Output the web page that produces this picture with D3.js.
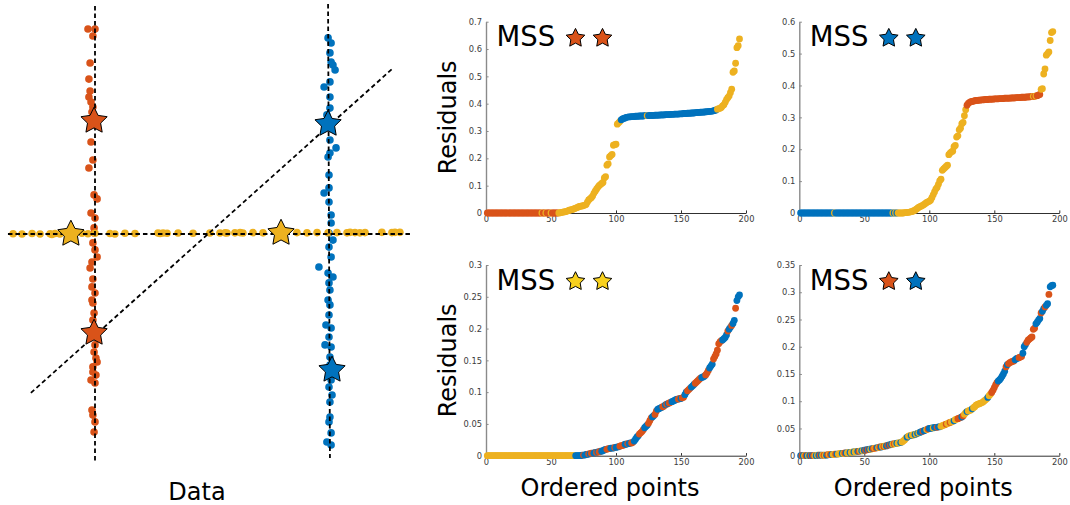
<!DOCTYPE html>
<html>
<head>
<meta charset="utf-8">
<script src="https://cdn.jsdelivr.net/npm/d3@7/dist/d3.min.js"></script>
<style>
  html, body { margin: 0; padding: 0; background: #fff; }
  svg { display: block; }
  text { font-family: "DejaVu Sans", sans-serif; }
</style>
</head>
<body>
<svg id="fig" width="1070" height="505"></svg>
<script>
// ---------- colours of the three structures ----------
const clusterColor = { o: "#D95319", b: "#0072BD", y: "#EDB120" };
const legendStarColor = { o: "#D95319", b: "#0072BD", y: "#F8D11E" };

// ---------- data panel: points of the three structures ----------
const orangePts = [
  [-0.530,0.876],[-0.500,0.876],[-0.509,0.846],[-0.521,0.731],[-0.526,0.662],[-0.521,0.611],
  [-0.526,0.585],[-0.517,0.564],[-0.509,0.543],[-0.513,0.521],[-0.517,0.393],[-0.509,0.316],
  [-0.526,0.282],[-0.504,0.167],[-0.491,0.150],[-0.517,0.090],[-0.500,0.068],[-0.504,0.026],
  [-0.504,0.004],[-0.509,-0.038],[-0.500,-0.068],[-0.491,-0.098],[-0.513,-0.120],[-0.521,-0.145],
  [-0.509,-0.192],[-0.513,-0.226],[-0.500,-0.252],[-0.513,-0.282],[-0.509,-0.295],[-0.504,-0.338],
  [-0.509,-0.368],[-0.500,-0.474],[-0.504,-0.504],[-0.496,-0.530],[-0.491,-0.547],[-0.509,-0.568],
  [-0.509,-0.590],[-0.496,-0.603],[-0.517,-0.624],[-0.500,-0.637],[-0.513,-0.752],[-0.509,-0.774],
  [-0.500,-0.803],[-0.504,-0.846]
];
const bluePts = [
  [0.496,0.838],[0.509,0.816],[0.504,0.774],[0.509,0.735],[0.517,0.722],[0.526,0.701],
  [0.504,0.650],[0.479,0.628],[0.504,0.585],[0.504,0.538],[0.491,0.509],[0.504,0.402],
  [0.530,0.368],[0.504,0.346],[0.496,0.329],[0.500,0.252],[0.500,0.197],[0.479,0.175],
  [0.500,0.137],[0.509,0.081],[0.509,0.047],[0.500,0.004],[0.517,-0.026],[0.500,-0.056],
  [0.509,-0.098],[0.457,-0.141],[0.496,-0.167],[0.517,-0.184],[0.500,-0.209],[0.504,-0.239],
  [0.496,-0.282],[0.504,-0.303],[0.500,-0.346],[0.487,-0.389],[0.509,-0.402],[0.500,-0.440],
  [0.483,-0.474],[0.509,-0.483],[0.504,-0.526],[0.504,-0.560],[0.509,-0.624],[0.500,-0.654],
  [0.513,-0.688],[0.504,-0.718],[0.504,-0.782],[0.500,-0.803],[0.509,-0.850],[0.491,-0.889],
  [0.509,-0.902]
];
const yellowPts = [
  [-0.850,0.001],[-0.812,0.000],[-0.769,0.002],[-0.735,0.000],[-0.692,0.001],[-0.684,-0.002],
  [-0.671,0.002],[-0.650,0.000],[-0.556,0.003],[-0.530,0.001],[-0.500,0.003],[-0.436,0.002],
  [-0.415,0.000],[-0.372,0.003],[-0.329,0.002],[-0.231,0.004],[-0.222,0.002],[-0.209,0.004],
  [-0.192,0.003],[-0.145,0.004],[-0.081,0.003],[-0.009,0.004],[0.034,0.004],[0.056,0.005],
  [0.064,0.004],[0.098,0.005],[0.120,0.006],[0.132,0.004],[0.175,0.006],[0.218,0.005],
  [0.363,0.006],[0.406,0.005],[0.449,0.006],[0.496,0.005],[0.534,0.006],[0.577,0.005],
  [0.590,0.007],[0.611,0.006],[0.632,0.005],[0.654,0.006],[0.726,0.007],[0.769,0.006],
  [0.782,0.007],[0.803,0.007]
];
// minimal sample sets (pairs of stars)
const mssStars = [
  { c: "o", x: -0.504, y: 0.483 }, { c: "o", x: -0.504, y: -0.423 },
  { c: "b", x: 0.496, y: 0.470 },  { c: "b", x: 0.513, y: -0.581 },
  { c: "y", x: -0.603, y: 0.000 }, { c: "y", x: 0.295, y: 0.004 }
];
// lines fitted through each pair
const fittedLines = [
  [-0.500, 0.974, -0.500, -0.974],
  [0.496, 0.983, 0.504, -0.957],
  [-0.872, 0.000, 0.850, 0.000],
  [-0.774, -0.679, 0.774, 0.709]
];

// ---------- residuals, sorted, with the structure each point belongs to ----------
const residualsOO = [
  0,0,0,0,0,0,0,0,0,0,
  0,0,0,0,0,0,0,0,0,0,
  0,0,0,0,0,0,0,0,0,0,
  0,0,0,0,0,0,0,0,0,0,
  0,0,0,0,0,0,0,0,0,0,
  0,0,0,0,0,0,.001,.002,.003,.004,
  .005,.006,.008,.010,.011,.012,.014,.016,.018,.020,
  .022,.024,.025,.026,.027,.029,.031,.040,.048,.052,
  .056,.062,.072,.080,.087,.094,.100,.104,.108,.112,
  .128,.133,.175,.180,.205,.210,.214,.248,.250,.252,
  .325,.330,.335,.341,.344,.346,.348,.350,.351,.352,
  .352,.353,.353,.353,.354,.354,.354,.355,.355,.355,
  .355,.356,.356,.356,.356,.357,.357,.357,.357,.358,
  .358,.358,.358,.359,.359,.359,.359,.360,.360,.360,
  .360,.361,.361,.361,.362,.362,.362,.362,.363,.363,
  .363,.364,.364,.364,.365,.365,.365,.366,.366,.366,
  .367,.367,.368,.368,.369,.369,.369,.370,.370,.371,
  .371,.372,.372,.373,.374,.375,.377,.380,.382,.383,
  .386,.392,.396,.405,.415,.422,.428,.440,.453,.515,
  .520,.548,.605,.612,.637
];
const labelsOO = ["oooooooooo","oooooooooo","oooooooooo","oooooooooo","ooyooyoooy",
  "oooooyyyyy","yyyyyyyyyy","yyyyyyyyyy","yyyyyyyyyy","yyyyyyyyyy",
  "yyybbbbbbb","bbbbbbbbbb","bbbybbbbbb","bbbbbbbbbb","bbbbbbbbbb",
  "bbbbbbbbbb","bbbbbbbbbb","bbbbbbbyyy","yyyyyyyyyy","yyyyy"].join("");

const residualsBB = [
  0,0,0,0,0,0,0,0,0,0,
  0,0,0,0,0,0,0,0,0,0,
  0,0,0,0,0,0,0,0,0,0,
  0,0,0,0,0,0,0,0,0,0,
  0,0,0,0,0,0,0,0,0,0,
  0,0,0,0,0,0,0,0,0,0,
  0,0,0,0,0,0,0,0,0,0,
  0,0,0,0,0,0,0,0,0,0,
  .001,.001,.002,.002,.003,.004,.005,.007,.009,.012,
  .015,.018,.020,.022,.024,.027,.030,.033,.035,.037,
  .040,.048,.057,.066,.075,.080,.090,.101,.106,.134,
  .138,.142,.146,.150,.183,.188,.192,.194,.208,.212,
  .238,.242,.261,.266,.280,.284,.305,.324,.338,.344,
  .347,.349,.350,.351,.352,.353,.353,.354,.354,.355,
  .355,.355,.356,.356,.356,.357,.357,.357,.357,.358,
  .358,.358,.358,.359,.359,.359,.359,.360,.360,.360,
  .360,.360,.361,.361,.361,.361,.362,.362,.362,.362,
  .363,.363,.363,.363,.364,.364,.364,.365,.365,.366,
  .366,.367,.368,.370,.372,.388,.390,.436,.452,.495,
  .500,.505,.541,.566,.569
];
const labelsBB = ["bbbbbbbbbb","bbbbbbbbbb","bbbbbbybbb","bbbbbbbbbb","bbbbbbbbbb",
  "bbbbbbbbbb","bbbbbbbbbb","bybybyyyyy","yyyyyyyyyy","yyyyyyyyyy",
  "yyyyyyyyyy","yyyyyyyyyy","yyyyyyyyoo","oooooooooo","oooooooooo",
  "oooooooooo","oooooooooo","oooooooooy","oyoooyyyyy","yyyyy"].join("");

const residualsYY = [
  0,0,0,0,0,0,0,0,0,0,
  0,0,0,0,0,0,0,0,0,0,
  0,0,0,0,0,0,0,0,0,0,
  0,0,0,0,0,0,0,0,0,0,
  0,0,0,0,0,0,0,0,0,0,
  0,0,0,0,0,0,0,0,0,0,
  0,0,0,0,0,0,0,0,0,0,
  0,0,0,.001,.001,.001,.002,.002,.003,.003,
  .004,.004,.004,.005,.005,.006,.006,.007,.007,.008,
  .009,.010,.010,.011,.011,.012,.012,.012,.013,.013,
  .014,.014,.015,.016,.016,.017,.018,.018,.019,.019,
  .020,.020,.021,.023,.026,.029,.031,.034,.036,.038,
  .041,.044,.046,.048,.051,.055,.059,.061,.063,.065,
  .070,.073,.074,.075,.076,.077,.078,.080,.081,.082,
  .083,.084,.085,.086,.087,.088,.089,.089,.090,.090,
  .091,.092,.096,.100,.102,.104,.106,.108,.110,.112,
  .114,.116,.118,.120,.122,.123,.124,.125,.127,.130,
  .134,.138,.141,.144,.152,.156,.160,.166,.176,.179,
  .181,.182,.184,.186,.190,.196,.199,.202,.205,.208,
  .213,.232,.244,.250,.253
];
const labelsYY = ["yyyyyyyyyy","yyyyyyyyyy","yyyyyyyyyy","yyyyyyyyyy","yyyyyyyyyy",
  "yyyyyyyyyy","yyyyyyyybb","bbbbobbbob","oobboboobb","bbooobbbob",
  "bboooobbob","boobbbbooo","obbbooobbo","obbbboobob","oobbbbboob",
  "oobbooobbb","ooooobbboo","obbboooooo","obbbbobbob","bobbb"].join("");

const residualsOB = [
  0,0,0,0,0,0,0,0,0,0,
  0,0,0,.001,.001,.001,.001,.001,.001,.001,
  .001,.002,.002,.002,.002,.002,.003,.003,.003,.003,
  .004,.004,.004,.004,.005,.005,.005,.006,.006,.006,
  .007,.007,.007,.008,.008,.008,.009,.009,.009,.010,
  .010,.011,.011,.012,.012,.013,.013,.014,.014,.015,
  .015,.016,.016,.017,.017,.018,.018,.019,.020,.020,
  .021,.021,.022,.022,.023,.023,.024,.024,.025,.027,
  .029,.032,.034,.036,.037,.037,.038,.038,.039,.040,
  .041,.042,.043,.044,.045,.046,.047,.048,.049,.050,
  .050,.051,.051,.052,.052,.052,.053,.053,.054,.055,
  .056,.057,.058,.059,.060,.061,.062,.063,.064,.066,
  .067,.068,.069,.070,.071,.073,.076,.079,.081,.082,
  .083,.084,.086,.088,.090,.093,.094,.095,.096,.097,
  .098,.100,.102,.104,.107,.110,.113,.116,.120,.125,
  .130,.134,.137,.139,.142,.146,.150,.155,.163,.167,
  .169,.171,.172,.173,.174,.176,.178,.179,.180,.181,
  .182,.188,.200,.204,.208,.212,.214,.216,.218,.232,
  .234,.242,.245,.249,.252,.262,.265,.270,.273,.276,
  .279,.296,.310,.312,.313
];
const labelsOB = ["bobyobybob","oybybobyoy","boyobyyoby","yybyobyyby","ybyyboybyb",
  "obobyboyob","yobyoybobo","byoybyybyy","yybyybyyby","bybbobbyob",
  "bbybbobbyy","yyoyyoyyby","yoooboyyby","yybyyyyyyy","yyyybyyooo",
  "oobbbbbbob","ooooobbboo","obbboooooo","obbbbobbob","bobbb"].join("");

const xTicks = [0, 50, 100, 150, 200];
const yTicksOO = [0, 0.1, 0.2, 0.3, 0.4, 0.5, 0.6, 0.7];
const yTicksBB = [0, 0.1, 0.2, 0.3, 0.4, 0.5, 0.6];
const yTicksYY = [0, 0.05, 0.1, 0.15, 0.2, 0.25, 0.3];
const yTicksOB = [0, 0.05, 0.1, 0.15, 0.2, 0.25, 0.3, 0.35];

const svg = d3.select("#fig");

// five-pointed star marker, outer radius r, point up
function starPath(r, inner = 0.5) {
  const p = d3.path();
  for (let k = 0; k < 10; k++) {
    const rad = k % 2 === 0 ? r : r * inner;
    const a = -Math.PI / 2 + k * Math.PI / 5;
    const px = rad * Math.cos(a), py = rad * Math.sin(a);
    if (k === 0) p.moveTo(px, py); else p.lineTo(px, py);
  }
  p.closePath();
  return p.toString();
}

// ================= data panel =================
const xL = d3.scaleLinear().domain([-0.9, 0.9]).range([1.4, 422.6]);
const yL = d3.scaleLinear().domain([-1, 1]).range([468, 0]);
const gL = svg.append("g");

const dots = (pts, c) => gL.append("g").selectAll("circle").data(pts).join("circle")
  .attr("cx", d => xL(d[0])).attr("cy", d => yL(d[1])).attr("r", 3.8)
  .attr("fill", clusterColor[c]);
dots(orangePts, "o");
dots(bluePts, "b");
dots(yellowPts, "y");

gL.append("g").selectAll("line").data(fittedLines).join("line")
  .attr("x1", d => xL(d[0])).attr("y1", d => yL(d[1]))
  .attr("x2", d => xL(d[2])).attr("y2", d => yL(d[3]))
  .attr("stroke", "#000").attr("stroke-width", 1.8)
  .attr("stroke-dasharray", "4.5,3");

gL.append("g").selectAll("path").data(mssStars).join("path")
  .attr("d", starPath(13.8))
  .attr("transform", d => `translate(${xL(d.x)},${yL(d.y)})`)
  .attr("fill", d => clusterColor[d.c]).attr("stroke", "#000").attr("stroke-width", 1)
  .attr("stroke-linejoin", "miter");

svg.append("text").attr("x", 197).attr("y", 500).attr("text-anchor", "middle")
  .attr("font-size", 24).attr("fill", "#000").text("Data");

// ================= residual panels =================
function residualPanel(o) {
  const g = svg.append("g");
  const x = d3.scaleLinear().domain([0, 200]).range([o.x0, o.x0 + 260]);
  const y = d3.scaleLinear().domain([0, o.yMax]).range([o.yBase, o.yTop]);
  const fmt = d => d === 0 ? "0" : String(+d.toFixed(2));

  const ya = g.append("g").attr("transform", `translate(${o.x0},0)`)
    .call(d3.axisLeft(y).tickValues(o.yTicks).tickFormat(fmt).tickSizeInner(-2.6).tickSizeOuter(0).tickPadding(4));
  ya.select(".domain").attr("stroke", "#8a8a8a").attr("stroke-width", 1.4);
  ya.selectAll(".tick line").attr("stroke", "#8a8a8a");
  ya.selectAll(".tick text").attr("fill", "#3c3c3c").attr("font-size", 8.3)
    .attr("font-family", "DejaVu Sans, sans-serif");

  const xa = g.append("g").attr("transform", `translate(0,${o.yBase})`)
    .call(d3.axisBottom(x).tickValues(xTicks).tickFormat(d3.format("d")).tickSizeInner(-2.6).tickSizeOuter(0).tickPadding(3));
  xa.select(".domain").attr("stroke", "#303030").attr("stroke-width", 1);
  xa.selectAll(".tick line").attr("stroke", "#303030");
  xa.selectAll(".tick text").attr("fill", "#3c3c3c").attr("font-size", 8.3)
    .attr("font-family", "DejaVu Sans, sans-serif");

  g.append("g").selectAll("circle").data(o.values).join("circle")
    .attr("cx", (d, i) => x(i + 1)).attr("cy", d => y(d)).attr("r", 3.4)
    .attr("fill", (d, i) => clusterColor[o.labels[i]]);

  const lg = g.append("g");
  lg.append("text").attr("x", o.x0 + 10.5).attr("y", o.yTop + 24.5)
    .attr("font-size", 27.5).attr("fill", "#000").text("MSS");
  lg.selectAll("path").data(o.stars).join("path")
    .attr("d", starPath(9.8))
    .attr("transform", (d, i) => `translate(${o.x0 + 89.5 + i * 27},${o.yTop + 16.5})`)
    .attr("fill", d => legendStarColor[d]).attr("stroke", "#000").attr("stroke-width", 1);

  if (o.yLabel) {
    g.append("text").attr("transform", `translate(${o.x0 - 30},${(o.yTop + o.yBase) / 2}) rotate(-90)`)
      .attr("text-anchor", "middle").attr("font-size", 24).attr("fill", "#000").text("Residuals");
  }
  if (o.xLabel) {
    g.append("text").attr("x", o.x0 + 124).attr("y", 496).attr("text-anchor", "middle")
      .attr("font-size", 24).attr("fill", "#000").text("Ordered points");
  }
}

residualPanel({ x0: 486, yTop: 21.7, yBase: 213, yMax: 0.7, yTicks: yTicksOO,
  values: residualsOO, labels: labelsOO, stars: ["o", "o"], yLabel: true });
residualPanel({ x0: 799.3, yTop: 21.7, yBase: 213, yMax: 0.6, yTicks: yTicksBB,
  values: residualsBB, labels: labelsBB, stars: ["b", "b"] });
residualPanel({ x0: 486, yTop: 265, yBase: 455.7, yMax: 0.3, yTicks: yTicksYY,
  values: residualsYY, labels: labelsYY, stars: ["y", "y"], yLabel: true, xLabel: true });
residualPanel({ x0: 799.3, yTop: 265, yBase: 455.7, yMax: 0.35, yTicks: yTicksOB,
  values: residualsOB, labels: labelsOB, stars: ["o", "b"], xLabel: true });
</script>
</body>
</html>
